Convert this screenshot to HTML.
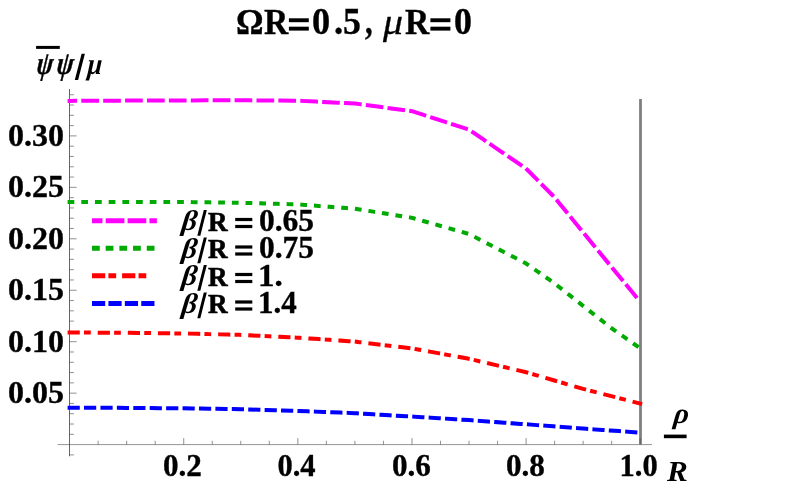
<!DOCTYPE html>
<html><head><meta charset="utf-8"><title>plot</title>
<style>
html,body{margin:0;padding:0;background:#fff;}
body{width:789px;height:491px;position:relative;overflow:hidden;font-family:"Liberation Serif",serif;color:#000;}
.t{position:absolute;white-space:nowrap;line-height:1;}
</style></head><body>
<svg width="789" height="491" viewBox="0 0 789 491" style="position:absolute;left:0;top:0">
<line x1="640.5" y1="98.9" x2="640.5" y2="444.6" stroke="#808080" stroke-width="2.8"/>
<g stroke="#444" stroke-width="0.6" fill="none">
<line x1="57.6" y1="444.6" x2="652" y2="444.6" stroke-width="0.8" stroke="#777"/>
<line x1="69.5" y1="89" x2="69.5" y2="456.3" stroke-width="0.75" stroke="#333"/>
<line x1="69.6" y1="454.89" x2="73.9" y2="454.89"/>
<line x1="69.6" y1="434.31" x2="73.9" y2="434.31"/>
<line x1="69.6" y1="424.02" x2="73.9" y2="424.02"/>
<line x1="69.6" y1="413.73" x2="73.9" y2="413.73"/>
<line x1="69.6" y1="403.44" x2="73.9" y2="403.44"/>
<line x1="69.6" y1="393.15" x2="76.6" y2="393.15"/>
<line x1="69.6" y1="382.86" x2="73.9" y2="382.86"/>
<line x1="69.6" y1="372.57" x2="73.9" y2="372.57"/>
<line x1="69.6" y1="362.28" x2="73.9" y2="362.28"/>
<line x1="69.6" y1="351.99" x2="73.9" y2="351.99"/>
<line x1="69.6" y1="341.70" x2="76.6" y2="341.70"/>
<line x1="69.6" y1="331.41" x2="73.9" y2="331.41"/>
<line x1="69.6" y1="321.12" x2="73.9" y2="321.12"/>
<line x1="69.6" y1="310.83" x2="73.9" y2="310.83"/>
<line x1="69.6" y1="300.54" x2="73.9" y2="300.54"/>
<line x1="69.6" y1="290.25" x2="76.6" y2="290.25"/>
<line x1="69.6" y1="279.96" x2="73.9" y2="279.96"/>
<line x1="69.6" y1="269.67" x2="73.9" y2="269.67"/>
<line x1="69.6" y1="259.38" x2="73.9" y2="259.38"/>
<line x1="69.6" y1="249.09" x2="73.9" y2="249.09"/>
<line x1="69.6" y1="238.80" x2="76.6" y2="238.80"/>
<line x1="69.6" y1="228.51" x2="73.9" y2="228.51"/>
<line x1="69.6" y1="218.22" x2="73.9" y2="218.22"/>
<line x1="69.6" y1="207.93" x2="73.9" y2="207.93"/>
<line x1="69.6" y1="197.64" x2="73.9" y2="197.64"/>
<line x1="69.6" y1="187.35" x2="76.6" y2="187.35"/>
<line x1="69.6" y1="177.06" x2="73.9" y2="177.06"/>
<line x1="69.6" y1="166.77" x2="73.9" y2="166.77"/>
<line x1="69.6" y1="156.48" x2="73.9" y2="156.48"/>
<line x1="69.6" y1="146.19" x2="73.9" y2="146.19"/>
<line x1="69.6" y1="135.90" x2="76.6" y2="135.90"/>
<line x1="69.6" y1="125.61" x2="73.9" y2="125.61"/>
<line x1="69.6" y1="115.32" x2="73.9" y2="115.32"/>
<line x1="69.6" y1="105.03" x2="73.9" y2="105.03"/>
<line x1="69.6" y1="94.74" x2="73.9" y2="94.74"/>
<line x1="98.13" y1="444.6" x2="98.13" y2="440.8"/>
<line x1="126.66" y1="444.6" x2="126.66" y2="440.8"/>
<line x1="155.19" y1="444.6" x2="155.19" y2="440.8"/>
<line x1="183.72" y1="444.6" x2="183.72" y2="438.1"/>
<line x1="212.25" y1="444.6" x2="212.25" y2="440.8"/>
<line x1="240.78" y1="444.6" x2="240.78" y2="440.8"/>
<line x1="269.31" y1="444.6" x2="269.31" y2="440.8"/>
<line x1="297.84" y1="444.6" x2="297.84" y2="438.1"/>
<line x1="326.37" y1="444.6" x2="326.37" y2="440.8"/>
<line x1="354.90" y1="444.6" x2="354.90" y2="440.8"/>
<line x1="383.43" y1="444.6" x2="383.43" y2="440.8"/>
<line x1="411.96" y1="444.6" x2="411.96" y2="438.1"/>
<line x1="440.49" y1="444.6" x2="440.49" y2="440.8"/>
<line x1="469.02" y1="444.6" x2="469.02" y2="440.8"/>
<line x1="497.55" y1="444.6" x2="497.55" y2="440.8"/>
<line x1="526.08" y1="444.6" x2="526.08" y2="438.1"/>
<line x1="554.61" y1="444.6" x2="554.61" y2="440.8"/>
<line x1="583.14" y1="444.6" x2="583.14" y2="440.8"/>
<line x1="611.67" y1="444.6" x2="611.67" y2="440.8"/>
<line x1="640.20" y1="444.6" x2="640.20" y2="438.1"/>
</g>
<path d="M69.6 100.9 L126.7 100.6 L183.7 100.4 L240.8 100.3 L297.8 100.7 L354.9 103.5 L412.0 111.2 L469.0 129.7 L526.1 168.6 L554.6 197.4 L583.1 232.4 L611.7 267.2 L638.2 299.4" fill="none" stroke="#ff00ff" stroke-width="4" stroke-linecap="square" stroke-linejoin="round" stroke-dasharray="13.69 8.21" stroke-dashoffset="8.21"/>
<path d="M69.6 201.9 L126.7 201.9 L183.7 202.0 L240.8 202.8 L297.8 204.4 L354.9 208.7 L412.0 217.8 L469.0 234.0 L526.1 263.5 L554.6 283.4 L583.1 305.9 L611.7 328.3 L640.2 348.4" fill="none" stroke="#00aa00" stroke-width="4" stroke-linecap="square" stroke-linejoin="round" stroke-dasharray="2.74 10.95" stroke-dashoffset="0.00"/>
<path d="M69.6 332.5 L126.7 332.8 L183.7 333.5 L240.8 334.9 L297.8 337.7 L354.9 341.6 L412.0 348.4 L469.0 358.8 L526.1 372.2 L583.1 388.9 L640.2 403.6" fill="none" stroke="#ff0000" stroke-width="4" stroke-linecap="square" stroke-linejoin="round" stroke-dasharray="8.21 8.21 2.74 10.95" stroke-dashoffset="0.00"/>
<path d="M69.6 407.7 L126.7 407.9 L183.7 408.3 L240.8 409.2 L297.8 410.9 L354.9 413.2 L412.0 416.6 L469.0 420.1 L526.1 424.3 L583.1 428.6 L640.2 432.6" fill="none" stroke="#0000ff" stroke-width="4" stroke-linecap="square" stroke-linejoin="round" stroke-dasharray="8.21 8.21" stroke-dashoffset="0.00"/>
<path d="M94.5 220.7 L154.4 220.7" fill="none" stroke="#ff00ff" stroke-width="5" stroke-linecap="square" stroke-dasharray="13.69 8.21" stroke-dashoffset="8.21"/>
<path d="M94.5 248.3 L154.4 248.3" fill="none" stroke="#00aa00" stroke-width="5" stroke-linecap="square" stroke-dasharray="2.74 10.95" stroke-dashoffset="0.00"/>
<path d="M94.5 275.7 L154.4 275.7" fill="none" stroke="#ff0000" stroke-width="5" stroke-linecap="square" stroke-dasharray="8.21 8.21 2.74 10.95" stroke-dashoffset="0.00"/>
<path d="M94.5 303.4 L154.4 303.4" fill="none" stroke="#0000ff" stroke-width="5" stroke-linecap="square" stroke-dasharray="8.21 8.21" stroke-dashoffset="0.00"/>
<rect x="663.9" y="434.6" width="22.7" height="3.6" fill="#000"/>
<rect x="36.1" y="45.9" width="23.7" height="3" fill="#000"/>
<rect x="288.9" y="18.3" width="19.9" height="3.9" fill="#000"/>
<rect x="288.9" y="26.7" width="19.9" height="3.9" fill="#000"/>
<rect x="430.4" y="18.3" width="20.0" height="3.9" fill="#000"/>
<rect x="430.4" y="26.7" width="20.0" height="3.9" fill="#000"/>
<rect x="235.2" y="217.9" width="17.1" height="3.2" fill="#000"/>
<rect x="235.2" y="224.9" width="17.1" height="3.2" fill="#000"/>
<rect x="235.2" y="245.4" width="17.1" height="3.2" fill="#000"/>
<rect x="235.2" y="252.4" width="17.1" height="3.2" fill="#000"/>
<rect x="235.2" y="272.9" width="17.1" height="3.2" fill="#000"/>
<rect x="235.2" y="279.9" width="17.1" height="3.2" fill="#000"/>
<rect x="235.2" y="300.4" width="17.1" height="3.2" fill="#000"/>
<rect x="235.2" y="307.4" width="17.1" height="3.2" fill="#000"/>
<polygon points="197.3,235.7 200.3,235.7 206.8,210.0 203.8,210.0" fill="#000"/>
<polygon points="197.3,263.2 200.3,263.2 206.8,237.5 203.8,237.5" fill="#000"/>
<polygon points="197.3,290.7 200.3,290.7 206.8,265.0 203.8,265.0" fill="#000"/>
<polygon points="197.3,318.2 200.3,318.2 206.8,292.5 203.8,292.5" fill="#000"/>
<polygon points="74.8,80.0 78.1,80.0 84.9,53.7 81.6,53.7" fill="#000"/>
</svg>
<div style="position:absolute;left:0;top:0;width:789px;height:491px;filter:grayscale(1)">
<div class="t" style="left:7.9px;top:378.2px;font-size:30.5px;font-weight:bold;-webkit-text-stroke:0.35px #000;transform-origin:0 0.8375em;transform:scaleX(1.049);">0.05</div>
<div class="t" style="left:7.9px;top:326.8px;font-size:30.5px;font-weight:bold;-webkit-text-stroke:0.35px #000;transform-origin:0 0.8375em;transform:scaleX(1.049);">0.10</div>
<div class="t" style="left:7.9px;top:275.3px;font-size:30.5px;font-weight:bold;-webkit-text-stroke:0.35px #000;transform-origin:0 0.8375em;transform:scaleX(1.049);">0.15</div>
<div class="t" style="left:7.9px;top:223.9px;font-size:30.5px;font-weight:bold;-webkit-text-stroke:0.35px #000;transform-origin:0 0.8375em;transform:scaleX(1.049);">0.20</div>
<div class="t" style="left:7.9px;top:172.4px;font-size:30.5px;font-weight:bold;-webkit-text-stroke:0.35px #000;transform-origin:0 0.8375em;transform:scaleX(1.049);">0.25</div>
<div class="t" style="left:7.9px;top:121.0px;font-size:30.5px;font-weight:bold;-webkit-text-stroke:0.35px #000;transform-origin:0 0.8375em;transform:scaleX(1.049);">0.30</div>
<div class="t" style="left:163.3px;top:451.0px;font-size:30.5px;font-weight:bold;-webkit-text-stroke:0.35px #000;transform-origin:0 0.8375em;transform:scaleX(1.021);">0.2</div>
<div class="t" style="left:277.4px;top:451.0px;font-size:30.5px;font-weight:bold;-webkit-text-stroke:0.35px #000;">0.4</div>
<div class="t" style="left:391.6px;top:451.0px;font-size:30.5px;font-weight:bold;-webkit-text-stroke:0.35px #000;transform-origin:0 0.8375em;transform:scaleX(1.021);">0.6</div>
<div class="t" style="left:505.7px;top:451.0px;font-size:30.5px;font-weight:bold;-webkit-text-stroke:0.35px #000;transform-origin:0 0.8375em;transform:scaleX(1.021);">0.8</div>
<div class="t" style="left:619.6px;top:451.0px;font-size:30.5px;font-weight:bold;-webkit-text-stroke:0.35px #000;">1.0</div>
<div class="t" style="left:235.6px;top:4.5px;font-size:35.2px;font-weight:bold;-webkit-text-stroke:0.35px #000;transform-origin:0 0.8375em;transform:scaleX(0.978);">&Omega;</div>
<div class="t" style="left:263.8px;top:4.5px;font-size:35.2px;font-weight:bold;-webkit-text-stroke:0.35px #000;transform-origin:0 0.8375em;transform:scaleX(0.954);">R</div>
<div class="t" style="left:312.4px;top:2.6px;font-size:37.2px;font-weight:bold;-webkit-text-stroke:0.35px #000;transform-origin:0 0.8375em;transform:scaleX(0.976);">0</div>
<div class="t" style="left:333.5px;top:2.6px;font-size:37.2px;font-weight:bold;-webkit-text-stroke:0.35px #000;transform-origin:0 0.8375em;transform:scaleX(0.986);">.</div>
<div class="t" style="left:342.8px;top:2.6px;font-size:37.2px;font-weight:bold;-webkit-text-stroke:0.35px #000;transform-origin:0 0.8375em;transform:scaleX(0.965);">5</div>
<div class="t" style="left:364.6px;top:2.6px;font-size:37.2px;font-weight:bold;-webkit-text-stroke:0.35px #000;transform-origin:0 0.8375em;transform:scaleX(0.822);">,</div>
<div class="t" style="left:382.5px;top:3.5px;font-size:36.4px;font-style:italic;-webkit-text-stroke:0.3px #000;transform-origin:0 0.8375em;transform:scaleX(1.095);">&mu;</div>
<div class="t" style="left:405.1px;top:4.5px;font-size:35.2px;font-weight:bold;-webkit-text-stroke:0.35px #000;transform-origin:0 0.8375em;transform:scaleX(0.954);">R</div>
<div class="t" style="left:453.8px;top:2.6px;font-size:37.2px;font-weight:bold;-webkit-text-stroke:0.35px #000;transform-origin:0 0.8375em;transform:scaleX(0.965);">0</div>
<div class="t" style="left:181.1px;top:207.3px;font-size:28.5px;font-weight:bold;font-style:italic;transform-origin:0 0.8375em;transform:scaleX(1.053) skewX(-6deg);">&beta;</div>
<div class="t" style="left:207.5px;top:207.8px;font-size:28px;font-weight:bold;-webkit-text-stroke:0.6px #000;transform-origin:0 0.8375em;transform:scaleX(0.971);">R</div>
<div class="t" style="left:258.7px;top:205.7px;font-size:30.5px;font-weight:bold;-webkit-text-stroke:0.35px #000;transform-origin:0 0.8375em;transform:scaleX(1.032);">0.65</div>
<div class="t" style="left:181.1px;top:234.8px;font-size:28.5px;font-weight:bold;font-style:italic;transform-origin:0 0.8375em;transform:scaleX(1.053) skewX(-6deg);">&beta;</div>
<div class="t" style="left:207.5px;top:235.2px;font-size:28px;font-weight:bold;-webkit-text-stroke:0.6px #000;transform-origin:0 0.8375em;transform:scaleX(0.971);">R</div>
<div class="t" style="left:258.7px;top:233.2px;font-size:30.5px;font-weight:bold;-webkit-text-stroke:0.35px #000;transform-origin:0 0.8375em;transform:scaleX(1.032);">0.75</div>
<div class="t" style="left:181.1px;top:262.3px;font-size:28.5px;font-weight:bold;font-style:italic;transform-origin:0 0.8375em;transform:scaleX(1.053) skewX(-6deg);">&beta;</div>
<div class="t" style="left:207.5px;top:262.8px;font-size:28px;font-weight:bold;-webkit-text-stroke:0.6px #000;transform-origin:0 0.8375em;transform:scaleX(0.971);">R</div>
<div class="t" style="left:257.5px;top:260.7px;font-size:30.5px;font-weight:bold;-webkit-text-stroke:0.35px #000;transform-origin:0 0.8375em;transform:scaleX(1.080);">1.</div>
<div class="t" style="left:181.1px;top:289.8px;font-size:28.5px;font-weight:bold;font-style:italic;transform-origin:0 0.8375em;transform:scaleX(1.053) skewX(-6deg);">&beta;</div>
<div class="t" style="left:207.5px;top:290.2px;font-size:28px;font-weight:bold;-webkit-text-stroke:0.6px #000;transform-origin:0 0.8375em;transform:scaleX(0.971);">R</div>
<div class="t" style="left:257.7px;top:288.2px;font-size:30.5px;font-weight:bold;-webkit-text-stroke:0.35px #000;transform-origin:0 0.8375em;transform:scaleX(1.014);">1.4</div>
<div class="t" style="left:35.9px;top:46.9px;font-size:32.3px;font-weight:bold;font-style:italic;-webkit-text-stroke:0.45px #000;transform-origin:0 0.8375em;transform:scaleX(0.757) skewX(-8deg);">&psi;</div>
<div class="t" style="left:55.9px;top:46.9px;font-size:32.3px;font-weight:bold;font-style:italic;-webkit-text-stroke:0.45px #000;transform-origin:0 0.8375em;transform:scaleX(0.778) skewX(-8deg);">&psi;</div>
<div class="t" style="left:86.7px;top:49.2px;font-size:30px;font-weight:bold;font-style:italic;transform-origin:0 0.8375em;transform:scaleX(0.884) skewX(-4deg);">&mu;</div>
<div class="t" style="left:672.7px;top:399.2px;font-size:29px;font-weight:bold;font-style:italic;transform-origin:0 0.8375em;transform:scaleX(1.018) skewX(-6deg);">&rho;</div>
<div class="t" style="left:666.8px;top:455.5px;font-size:30.2px;font-weight:bold;font-style:italic;transform-origin:0 0.8375em;transform:scaleX(1.032);">R</div>
</div>
</body></html>
